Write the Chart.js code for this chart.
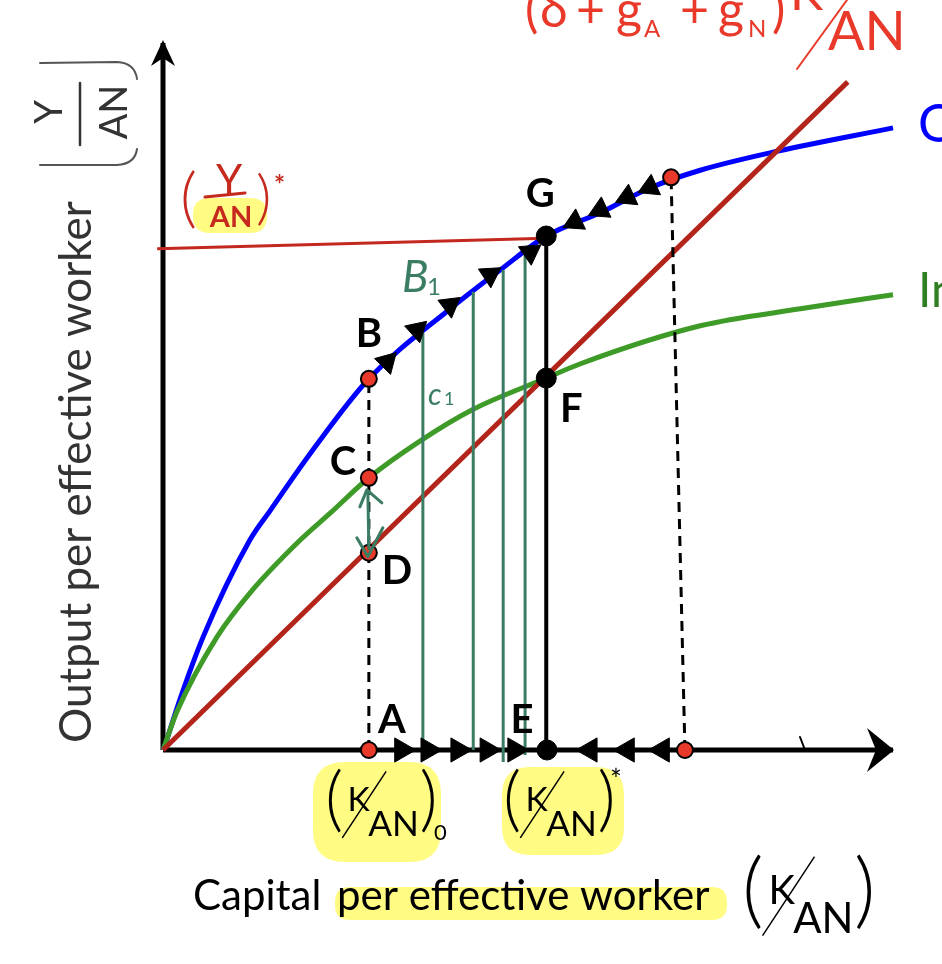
<!DOCTYPE html>
<html lang="en">
<head>
<meta charset="UTF-8">
<title>Solow | Convergence to the steady state</title>
<script src="https://cdn.jsdelivr.net/npm/chart.js@4.4.1/dist/chart.umd.min.js"></script>
<style>
    html, body { margin: 0; padding: 0; background: #fff; }
    #grafico { display: block; }
</style>
</head>
<body>
<canvas id="grafico" width="942" height="964"></canvas>
<script>
// capital per effective worker (K/AN) on x, output / investment per effective worker on y (0..10 units)
const outputK = [0, 0.05, 0.23, 0.55, 1.19, 1.47, 2.05, 2.82, 3.97, 4.62, 5.25, 5.99, 6.67, 7.36, 8.42, 10];
const outputY = [0, 0.14, 0.71, 1.60, 2.97, 3.39, 4.24, 5.25, 6.27, 6.79, 7.27, 7.60, 7.95, 8.20, 8.47, 8.80];

const investK = [0, 0.19, 0.74, 1.19, 1.88, 2.29, 2.82, 3.52, 4.25, 5.25, 5.71, 7.36, 8.73, 10];
const investY = [0, 0.54, 1.60, 2.22, 2.97, 3.35, 3.85, 4.37, 4.82, 5.26, 5.46, 6.00, 6.24, 6.44];

const breakEvenK = [0, 9.38];
const breakEvenY = [0, 9.45];

// (Y/AN)* level, drawn by hand in the source
const yStarK = [-0.08, 5.25];
const yStarY = [7.09, 7.24];

// red dots: A, B, C, D, upper right, lower right
const redNames = ['A', 'B', 'C', 'D', 'R1', 'R0'];
const redK = [2.82, 2.82, 2.82, 2.82, 6.96, 7.15];
const redY = [0, 5.25, 3.85, 2.79, 8.10, 0];

// black dots: G, F, E
const blackNames = ['G', 'F', 'E'];
const blackK = [5.25, 5.25, 5.26];
const blackY = [7.27, 5.26, 0];

// arrow heads
const riseK = [3.07, 3.48, 3.93, 4.48, 5.03];
const riseY = [5.49, 5.94, 6.29, 6.72, 7.04];
const fallK = [6.67, 6.36, 5.99, 5.64];
const fallY = [7.96, 7.82, 7.64, 7.47];
const axisRightK = [3.27, 3.63, 4.04, 4.44, 4.82];
const axisLeftK = [5.85, 6.36, 6.84];

// hand-drawn green verticals
const tealK = [3.56, 4.25, 4.66, 4.96];
const tealTop = [5.90, 6.48, 6.79, 7.04];
const tealBottom = [0, 0, -0.17, -0.07];

const SANS = 'Lato, "Open Sans", "DejaVu Sans", sans-serif';
const TEAL = '#3b7d63';

function serie(xs, ys) {
    return xs.map((x, i) => ({ x: x, y: ys[i] }));
}

function ponto(names, xs, ys, nome) {
    const i = names.indexOf(nome);
    return { x: xs[i], y: ys[i] };
}

const B = ponto(redNames, redK, redY, 'B');
const G = ponto(blackNames, blackK, blackY, 'G');
const E = ponto(blackNames, blackK, blackY, 'E');
const A = ponto(redNames, redK, redY, 'A');
const R1 = ponto(redNames, redK, redY, 'R1');
const R0 = ponto(redNames, redK, redY, 'R0');

const riseChain = [B].concat(serie(riseK, riseY), [G]);
const fallChain = [R1].concat(serie(fallK, fallY), [G]);

function angulo(chart, chain, i) {
    const sx = chart.scales.x, sy = chart.scales.y;
    const a = chain[i - 1], b = chain[i + 1];
    const dx = sx.getPixelForValue(b.x) - sx.getPixelForValue(a.x);
    const dy = sy.getPixelForValue(b.y) - sy.getPixelForValue(a.y);
    return Math.atan2(dx, -dy) * 180 / Math.PI;
}

function linha(data, cor, largura, ordem, extra) {
    return Object.assign({
        data: data, showLine: true, borderColor: cor, backgroundColor: cor,
        borderWidth: largura, pointRadius: 0, order: ordem, clip: false
    }, extra || {});
}

function seta(data, rotacao, raio) {
    return {
        data: data, pointStyle: 'triangle', pointRadius: raio, rotation: rotacao,
        backgroundColor: '#000', borderColor: '#000', borderWidth: 1, order: 2, clip: false
    };
}

const datasets = [
    linha([{ x: 0, y: 0 }, { x: 0, y: 10 }], '#000', 5, 10),
    linha([{ x: 0, y: 0 }, { x: 10, y: 0 }], '#000', 5, 10),
    linha(serie(breakEvenK, breakEvenY), '#b3241a', 5, 7),
    linha(serie(investK, investY), '#3f9b28', 5, 7, { cubicInterpolationMode: 'monotone' }),
    linha(serie(outputK, outputY), '#0000ff', 5, 7, { cubicInterpolationMode: 'monotone' }),
    linha(serie(yStarK, yStarY), '#c3281e', 3, 6),
    linha([A, B], '#000', 3, 4, { borderDash: [10, 7] }),
    linha([R0, R1], '#000', 3, 4, { borderDash: [10, 7] }),
    linha([E, G], '#000', 4, 4)
];

tealK.forEach((k, i) => {
    datasets.push(linha([{ x: k, y: tealBottom[i] }, { x: k, y: tealTop[i] }], TEAL, 3, 5));
});

datasets.push(seta(serie(riseK, riseY), ctx => angulo(ctx.chart, riseChain, ctx.dataIndex + 1), 13));
datasets.push(seta(serie(fallK, fallY), ctx => angulo(ctx.chart, fallChain, ctx.dataIndex + 1), 13));
datasets.push(seta(axisRightK.map(k => ({ x: k, y: 0 })), 90, 14));
datasets.push(seta(axisLeftK.map(k => ({ x: k, y: 0 })), 270, 14));

datasets.push({
    data: serie(redK, redY), pointRadius: 8, backgroundColor: '#e8392a',
    borderColor: '#000', borderWidth: 2, order: 1, clip: false
});
datasets.push({
    data: serie(blackK, blackY), pointRadius: 10, backgroundColor: '#000',
    borderColor: '#000', borderWidth: 1, order: 1, clip: false
});

function caixa(ctx, x, y, w, h, r) {
    ctx.beginPath();
    ctx.moveTo(x + r, y);
    ctx.lineTo(x + w - r, y);
    ctx.quadraticCurveTo(x + w, y, x + w, y + r);
    ctx.lineTo(x + w, y + h - r);
    ctx.quadraticCurveTo(x + w, y + h, x + w - r, y + h);
    ctx.lineTo(x + r, y + h);
    ctx.quadraticCurveTo(x, y + h, x, y + h - r);
    ctx.lineTo(x, y + r);
    ctx.quadraticCurveTo(x, y, x + r, y);
    ctx.closePath();
}

function texto(ctx, s, x, y, fonte, cor, alinha, maxW) {
    ctx.font = fonte;
    ctx.fillStyle = cor;
    ctx.textAlign = alinha || 'left';
    ctx.textBaseline = 'alphabetic';
    if (maxW) ctx.fillText(s, x, y, maxW); else ctx.fillText(s, x, y);
}

function traco(ctx, pts, cor, largura) {
    ctx.beginPath();
    ctx.moveTo(pts[0][0], pts[0][1]);
    for (let i = 1; i < pts.length; i++) ctx.lineTo(pts[i][0], pts[i][1]);
    ctx.strokeStyle = cor;
    ctx.lineWidth = largura;
    ctx.lineCap = 'round';
    ctx.lineJoin = 'round';
    ctx.stroke();
}

// K/AN fraction like in the slide
function kan(ctx, x, base, tam) {
    const p = tam * 2.2;
    texto(ctx, '(', x, base, `300 ${p}px ${SANS}`, '#000');
    texto(ctx, 'K', x + tam * 0.7, base - tam * 0.38, `${tam * 1.05}px ${SANS}`, '#000');
    traco(ctx, [[x + tam * 0.55, base + tam * 0.45], [x + tam * 1.9, base - tam * 1.6]], '#000', 1.5);
    texto(ctx, 'AN', x + tam * 1.35, base + tam * 0.4, `${tam * 1.1}px ${SANS}`, '#000');
    texto(ctx, ')', x + tam * 2.95, base, `300 ${p}px ${SANS}`, '#000');
}

const desenhos = {
    id: 'desenhos',
    beforeDatasetsDraw(chart) {
        const ctx = chart.ctx;
        ctx.save();
        ctx.fillStyle = 'rgba(255, 249, 55, 0.62)';
        caixa(ctx, 313, 762, 128, 100, 32); ctx.fill();
        caixa(ctx, 502, 767, 122, 88, 28); ctx.fill();
        caixa(ctx, 335, 887, 392, 33, 15); ctx.fill();
        caixa(ctx, 193, 198, 74, 35, 17); ctx.fill();
        ctx.restore();
    },
    afterDatasetsDraw(chart) {
        const ctx = chart.ctx;
        const sx = chart.scales.x, sy = chart.scales.y;
        const px = v => sx.getPixelForValue(v);
        const py = v => sy.getPixelForValue(v);
        ctx.save();

        // axis arrow heads
        const x0 = px(0), y0 = py(0), xt = px(10), yt = py(10);
        ctx.fillStyle = '#000';
        ctx.beginPath();
        ctx.moveTo(xt + 1, y0); ctx.lineTo(xt - 26, y0 - 22); ctx.lineTo(xt - 17, y0);
        ctx.lineTo(xt - 26, y0 + 22); ctx.closePath(); ctx.fill();
        ctx.beginPath();
        ctx.moveTo(x0, yt - 3); ctx.lineTo(x0 - 12, yt + 23); ctx.lineTo(x0, yt + 15);
        ctx.lineTo(x0 + 12, yt + 23); ctx.closePath(); ctx.fill();
        traco(ctx, [[800, y0 - 13], [805, y0]], '#000', 2);

        // point letters
        const lb = `bold 40px ${SANS}`;
        const rotulo = (p, s, dx, dy) => texto(ctx, s, px(p.x) + dx, py(p.y) + dy, lb, '#000', 'center');
        rotulo(B, 'B', 0, -32);
        rotulo(ponto(redNames, redK, redY, 'C'), 'C', -26, -3);
        rotulo(ponto(redNames, redK, redY, 'D'), 'D', 28, 31);
        rotulo(A, 'A', 23, -17);
        rotulo(E, 'E', -25, -17);
        rotulo(ponto(blackNames, blackK, blackY, 'F'), 'F', 25, 44);
        rotulo(G, 'G', -6, -29);

        // curve names, clipped by the page edge
        texto(ctx, 'Output', 918, 142, `52px ${SANS}`, '#0000ff');
        texto(ctx, 'Investment', 918, 307, `48px ${SANS}`, '#2f7f22');

        // break-even formula at the top
        const rv = '#e8392a';
        const f = `50px ${SANS}`, fs = `24px ${SANS}`;
        texto(ctx, '(', 525, 27, f, rv);
        texto(ctx, 'δ', 540, 27, f, rv);
        texto(ctx, '+', 576, 27, f, rv);
        texto(ctx, 'g', 616, 27, f, rv);
        texto(ctx, 'A', 644, 37, fs, rv);
        texto(ctx, '+', 680, 27, f, rv);
        texto(ctx, 'g', 718, 27, f, rv);
        texto(ctx, 'N', 748, 37, fs, rv);
        texto(ctx, ')', 772, 27, f, rv);
        texto(ctx, 'K', 790, 10, f, rv);
        traco(ctx, [[797, 69], [847, 0]], rv, 2);
        texto(ctx, 'AN', 828, 50, `54px ${SANS}`, rv);

        // hand-written (Y/AN)*
        const hr = '#c62a1f';
        texto(ctx, '(', 180, 220, `300 66px ${SANS}`, hr);
        texto(ctx, 'Y', 229, 195, `42px ${SANS}`, hr, 'center');
        traco(ctx, [[205, 197], [245, 193]], hr, 3);
        texto(ctx, 'AN', 231, 227, `bold 29px ${SANS}`, hr, 'center');
        texto(ctx, ')', 256, 218, `300 60px ${SANS}`, hr);
        texto(ctx, '*', 274, 194, `bold 26px ${SANS}`, hr);

        // hand-written green notes
        texto(ctx, 'B', 402, 292, `italic 44px ${SANS}`, TEAL);
        texto(ctx, '1', 427, 295, `24px ${SANS}`, TEAL);
        texto(ctx, 'c', 428, 405, `italic 30px ${SANS}`, TEAL);
        texto(ctx, '1', 444, 405, `18px ${SANS}`, TEAL);
        const C = ponto(redNames, redK, redY, 'C');
        const D = ponto(redNames, redK, redY, 'D');
        const cx = px(C.x), cy = py(C.y), dxp = px(D.x), dyp = py(D.y);
        traco(ctx, [[cx - 1, cy + 14], [dxp, dyp - 4]], TEAL, 3);
        traco(ctx, [[cx - 9, cy + 29], [cx - 2, cy + 12], [cx + 13, cy + 25]], TEAL, 3);
        traco(ctx, [[dxp - 12, dyp - 15], [dxp - 1, dyp + 4], [dxp + 14, dyp - 25]], TEAL, 3);

        // x-axis labels
        kan(ctx, 325, 823, 32);
        texto(ctx, '0', 434, 840, `22px ${SANS}`, '#000');
        kan(ctx, 503, 823, 32);
        texto(ctx, '*', 610, 790, `28px ${SANS}`, '#000');
        texto(ctx, 'Capital', 193, 910, `42px ${SANS}`, '#000', 'left', 130);
        texto(ctx, 'per effective worker', 337, 910, `42px ${SANS}`, '#000', 'left', 388);
        kan(ctx, 742, 918, 38);

        // y-axis title, rotated
        ctx.save();
        ctx.translate(91, 743);
        ctx.rotate(-Math.PI / 2);
        texto(ctx, 'Output per effective worker', 0, 0, `44px ${SANS}`, '#333', 'left', 556);
        texto(ctx, 'Y', 631, -29, `38px ${SANS}`, '#333', 'center');
        texto(ctx, 'AN', 631, 36, `38px ${SANS}`, '#333', 'center');
        traco(ctx, [[598, -11], [660, -11]], '#333', 2.5);
        ctx.restore();
        ctx.beginPath();
        ctx.moveTo(40, 63); ctx.lineTo(117, 62); ctx.quadraticCurveTo(135, 63, 137, 79);
        ctx.moveTo(40, 165); ctx.lineTo(117, 165); ctx.quadraticCurveTo(135, 164, 137, 149);
        ctx.strokeStyle = '#555'; ctx.lineWidth = 2; ctx.stroke();

        ctx.restore();
    }
};

new Chart(document.getElementById('grafico'), {
    type: 'scatter',
    data: { datasets: datasets },
    options: {
        responsive: false,
        animation: false,
        devicePixelRatio: 1,
        events: [],
        layout: { padding: { left: 163, right: 49, top: 43, bottom: 214 } },
        scales: {
            x: { type: 'linear', min: 0, max: 10, display: false },
            y: { type: 'linear', min: 0, max: 10, display: false }
        },
        plugins: { legend: { display: false }, tooltip: { enabled: false } }
    },
    plugins: [desenhos]
});
</script>
</body>
</html>
